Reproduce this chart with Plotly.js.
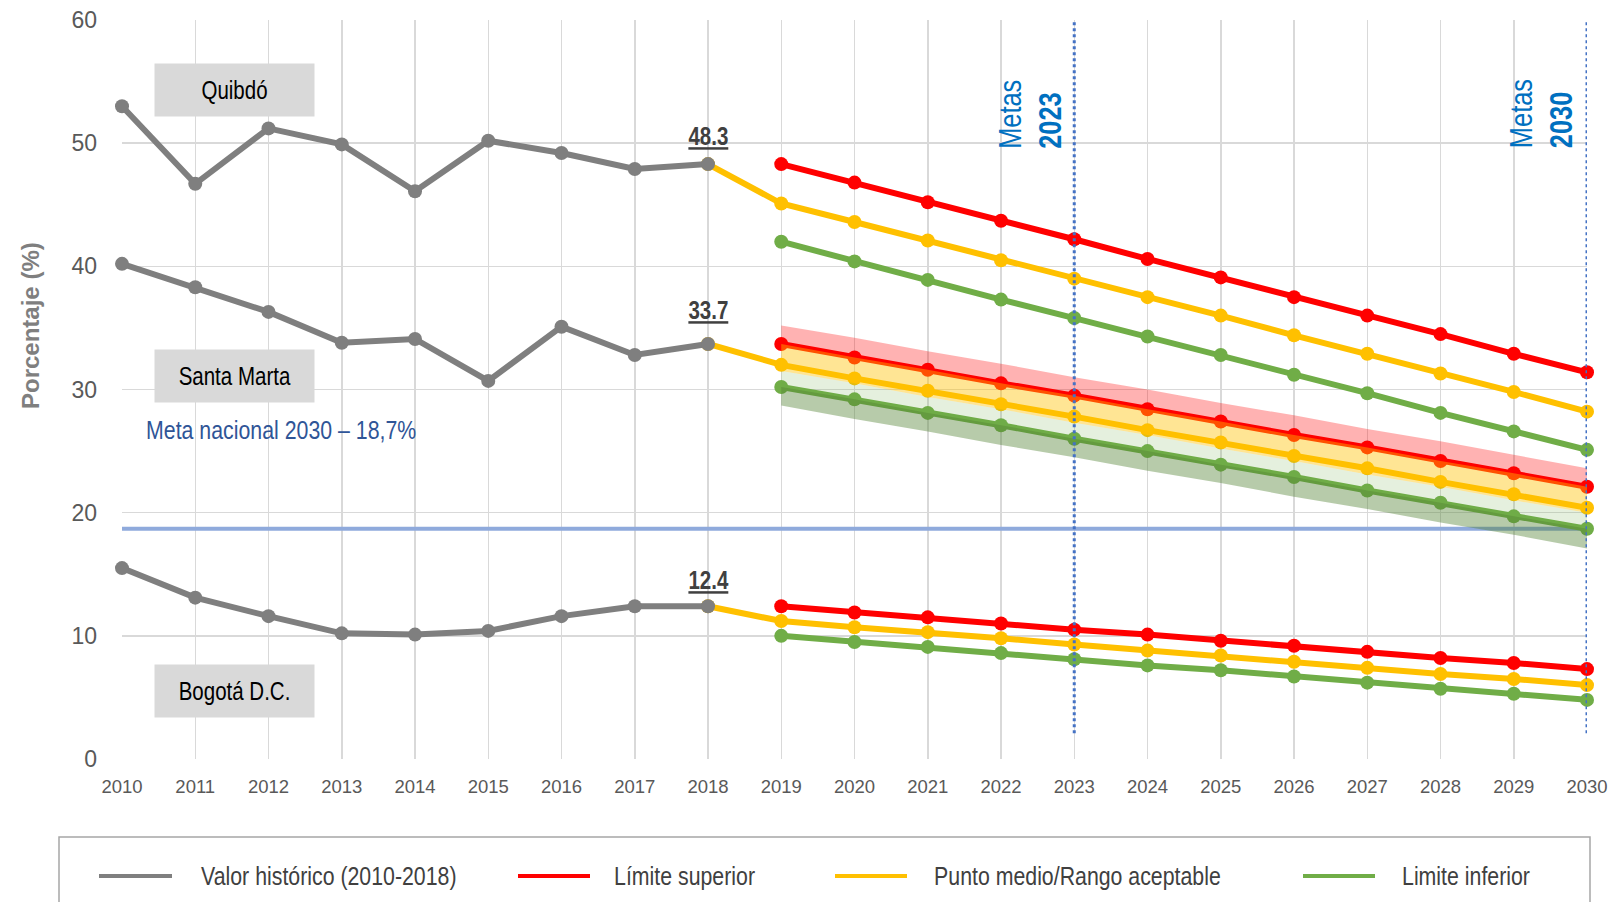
<!DOCTYPE html>
<html>
<head>
<meta charset="utf-8">
<script src="https://cdn.plot.ly/plotly-3.0.1.min.js"></script>
<style>
html,body{margin:0;padding:0;background:#fff;}
#chart{width:1609px;height:902px;}
</style>
</head>
<body>
<div id="chart"></div>
<script>
// ---------- data ----------
const histYears = [2010, 2011, 2012, 2013, 2014, 2015, 2016, 2017, 2018];
const projYears = [2019, 2020, 2021, 2022, 2023, 2024, 2025, 2026, 2027, 2028, 2029, 2030];
const tickYears = [2010, 2011, 2012, 2013, 2014, 2015, 2016, 2017, 2018, 2019, 2020,
                   2021, 2022, 2023, 2024, 2025, 2026, 2027, 2028, 2029, 2030];

const quibdoHist     = [53.0, 46.7, 51.2, 49.9, 46.1, 50.2, 49.2, 47.9, 48.3];
const santaMartaHist = [40.2, 38.3, 36.3, 33.8, 34.1, 30.7, 35.1, 32.8, 33.7];
const bogotaHist     = [15.5, 13.1, 11.6, 10.2, 10.1, 10.4, 11.6, 12.4, 12.4];

const quibdoSup = [48.3, 46.8, 45.2, 43.7, 42.2, 40.6, 39.1, 37.5, 36.0, 34.5, 32.9, 31.4];
const quibdoMed = [45.1, 43.6, 42.1, 40.5, 39.0, 37.5, 36.0, 34.4, 32.9, 31.3, 29.8, 28.2];
const quibdoInf = [42.0, 40.4, 38.9, 37.3, 35.8, 34.3, 32.8, 31.2, 29.7, 28.1, 26.6, 25.1];

const santaMartaSup = [33.7, 32.6, 31.6, 30.5, 29.5, 28.4, 27.4, 26.3, 25.3, 24.2, 23.2, 22.1];
const santaMartaMed = [32.0, 30.9, 29.9, 28.8, 27.8, 26.7, 25.7, 24.6, 23.6, 22.5, 21.5, 20.4];
const santaMartaInf = [30.2, 29.2, 28.1, 27.1, 26.0, 25.0, 23.9, 22.9, 21.8, 20.8, 19.7, 18.7];

// shaded band edges around the Santa Marta projection
const smBandTop    = [35.2, 34.2, 33.1, 32.1, 31.0, 30.0, 28.9, 27.9, 26.8, 25.8, 24.7, 23.6];
const smBandMid    = [31.5, 30.5, 29.4, 28.4, 27.3, 26.3, 25.2, 24.2, 23.1, 22.1, 21.0, 20.0];
const smBandBottom = [28.7, 27.6, 26.6, 25.5, 24.5, 23.4, 22.4, 21.3, 20.3, 19.2, 18.2, 17.1];

const bogotaSup = [12.4, 11.9, 11.5, 11.0, 10.5, 10.1, 9.6, 9.2, 8.7, 8.2, 7.8, 7.3];
const bogotaMed = [11.2, 10.7, 10.3, 9.8, 9.3, 8.8, 8.4, 7.9, 7.4, 6.9, 6.5, 6.0];
const bogotaInf = [10.0, 9.5, 9.1, 8.6, 8.1, 7.6, 7.2, 6.7, 6.2, 5.7, 5.3, 4.8];

const metaNacional = 18.7;
const metaYears = [2023, 2030];
const metaLineRange = [2.1, 60];

const cityLabels = ["Quibdó", "Santa Marta", "Bogotá D.C."];
const cityLabelY = [54.3, 31.1, 5.5];
const lastValueLabelY = [50.6, 36.45, 14.5];

const legendNames = ["Valor histórico (2010-2018)", "Límite superior",
                     "Punto medio/Rango aceptable", "Limite inferior"];

// ---------- styles ----------
const GRAY = "#7F7F7F", RED = "#FF0000", YEL = "#FFC000", GRN = "#70AD47";
const ARIAL = '"Liberation Sans", Arial, sans-serif';

function lineTrace(x, y, color, w, ms) {
  return {x: x, y: y, type: "scatter", mode: "lines+markers", cliponaxis: false,
          line: {color: color, width: w}, marker: {color: color, size: ms},
          showlegend: false, hoverinfo: "x+y"};
}
function bandTrace(y, fill, fillcolor) {
  return {x: projYears, y: y, type: "scatter", mode: "lines",
          line: {width: 0, color: "rgba(0,0,0,0)"}, fill: fill, fillcolor: fillcolor,
          showlegend: false, hoverinfo: "skip"};
}

const hists = [quibdoHist, santaMartaHist, bogotaHist];
const sups = [quibdoSup, santaMartaSup, bogotaSup];
const meds = [quibdoMed, santaMartaMed, bogotaMed];
const infs = [quibdoInf, santaMartaInf, bogotaInf];

const traces = [];
// national target line
traces.push({x: [tickYears[0], tickYears[tickYears.length - 1]], y: [metaNacional, metaNacional],
             type: "scatter", mode: "lines", line: {color: "#8FAADC", width: 4},
             showlegend: false, hoverinfo: "y"});

for (let c = 0; c < 3; c++) {
  const h = hists[c];
  traces.push(lineTrace([histYears[histYears.length - 1]].concat(projYears),
                        [h[h.length - 1]].concat(meds[c]), YEL, 6, 14));
  traces.push(lineTrace(projYears, infs[c], GRN, 6, 14));
  traces.push(lineTrace(projYears, sups[c], RED, 6, 14));
  traces.push(lineTrace(histYears, h, GRAY, 6, 14));
}

// bands (Santa Marta)
traces.push(bandTrace(smBandTop, "none", "rgba(0,0,0,0)"));
traces.push(bandTrace(santaMartaSup, "tonexty", "rgba(255,0,0,0.30)"));
traces.push(bandTrace(smBandMid, "tonexty", "rgba(255,192,0,0.42)"));
traces.push(bandTrace(santaMartaInf, "tonexty", "rgba(112,173,71,0.18)"));
traces.push(bandTrace(smBandBottom, "tonexty", "rgba(84,130,53,0.42)"));

// target year dotted lines
metaYears.forEach(yr => {
  traces.push({x: [yr, yr], y: metaLineRange, type: "scatter", mode: "lines", cliponaxis: false,
               line: {color: "#4472C4", width: 3, dash: "dot"},
               showlegend: false, hoverinfo: "skip"});
});

// ---------- annotations ----------
// narrow texts are condensed after drawing (no narrow font is installed)
const narrowCenter = [], narrowLeft = [];
const annotations = [];
cityLabels.forEach((t, i) => {
  annotations.push({x: 2011.536, y: cityLabelY[i], xref: "x", yref: "y", text: t,
    showarrow: false, bgcolor: "#D9D9D9", width: 159, height: 52, borderpad: 0,
    font: {family: ARIAL, size: 25, color: "#000000"}, xanchor: "center", yanchor: "middle"});
  narrowCenter.push(t);
});
hists.forEach((h, i) => {
  const v = h[h.length - 1].toFixed(1);
  annotations.push({x: histYears[histYears.length - 1], y: lastValueLabelY[i], xref: "x", yref: "y",
    text: "<b><u>" + v + "</u></b>", showarrow: false,
    font: {family: ARIAL, size: 25, color: "#404040"}, xanchor: "center", yanchor: "middle"});
  narrowCenter.push(v);
});
annotations.push({x: 2010.3, y: 26.7, xref: "x", yref: "y", text: "Meta nacional 2030 – 18,7%",
  showarrow: false, font: {family: ARIAL, size: 26, color: "#2F5597"}, xanchor: "left", yanchor: "middle"});
narrowLeft.push("Meta nacional 2030 – 18,7%");
metaYears.forEach((yr, i) => {
  annotations.push({x: yr - (i === 0 ? 0.60 : 0.62), y: 49.4, xref: "x", yref: "y",
    text: "Metas<br><b>" + yr + "</b>", textangle: -90, align: "left", showarrow: false,
    font: {family: ARIAL, size: 31, color: "#0070C0"}, xanchor: "center", yanchor: "bottom"});
  narrowLeft.push("Metas" + yr);
});

// y axis title (placed as in the reference, above centre)
const L = 122, W = 1465, T = 20, H = 739;
const px = v => (v - L) / W;
const py = v => (T + H - v) / H;
annotations.push({xref: "paper", yref: "paper", x: px(30), y: py(326), text: "<b>Porcentaje (%)</b>",
  textangle: -90, showarrow: false, xanchor: "center", yanchor: "middle",
  font: {family: ARIAL, size: 24, color: "#7F7F7F"}});

// custom legend
const legendLineX = [[99, 172], [518, 590], [835, 907], [1303, 1375]];
const legendTextX = [199, 612, 932, 1400];
const legendColors = [GRAY, RED, YEL, GRN];
const shapes = [{type: "rect", xref: "paper", yref: "paper", x0: px(59), x1: px(1590),
  y0: py(837), y1: py(915), line: {color: "#A6A6A6", width: 1.5}, fillcolor: "rgba(0,0,0,0)"}];
legendNames.forEach((n, i) => {
  shapes.push({type: "line", xref: "paper", yref: "paper", x0: px(legendLineX[i][0]), x1: px(legendLineX[i][1]),
    y0: py(876), y1: py(876), line: {color: legendColors[i], width: 4}});
  annotations.push({xref: "paper", yref: "paper", x: px(legendTextX[i]), y: py(876), text: n,
    showarrow: false, xanchor: "left", yanchor: "middle",
    font: {family: ARIAL, size: 26, color: "#404040"}});
  narrowLeft.push(n);
});

const layout = {
  width: 1609, height: 902,
  margin: {l: 122, r: 22, t: 20, b: 143, pad: 0},
  paper_bgcolor: "#ffffff", plot_bgcolor: "#ffffff",
  showlegend: false,
  xaxis: {range: [2010, 2030], tickvals: tickYears, ticktext: tickYears.map(String),
    showgrid: true, gridcolor: "#D9D9D9", gridwidth: 1.5, zeroline: false, showline: false,
    ticks: "", ticklabelstandoff: 14, tickfont: {family: ARIAL, size: 18.5, color: "#595959"},
    fixedrange: true},
  yaxis: {range: [0, 60], dtick: 10, showgrid: true, gridcolor: "#D9D9D9", gridwidth: 1.5,
    zeroline: false, showline: false, ticks: "", ticklabelstandoff: 24,
    tickfont: {family: ARIAL, size: 23, color: "#595959"},
    fixedrange: true},
  annotations: annotations,
  shapes: shapes
};

function condense() {
  document.querySelectorAll("#chart text.annotation-text").forEach(el => {
    const t = el.textContent;
    let origin = null;
    if (narrowCenter.indexOf(t) >= 0) origin = "center";
    else if (narrowLeft.indexOf(t) >= 0) origin = "left center";
    if (!origin) return;
    el.style.transformBox = "fill-box";
    el.style.transformOrigin = origin;
    el.style.transform = "scaleX(0.82)";
  });
}

Plotly.newPlot("chart", traces, layout, {displayModeBar: false, staticPlot: true}).then(condense);
</script>
</body>
</html>
